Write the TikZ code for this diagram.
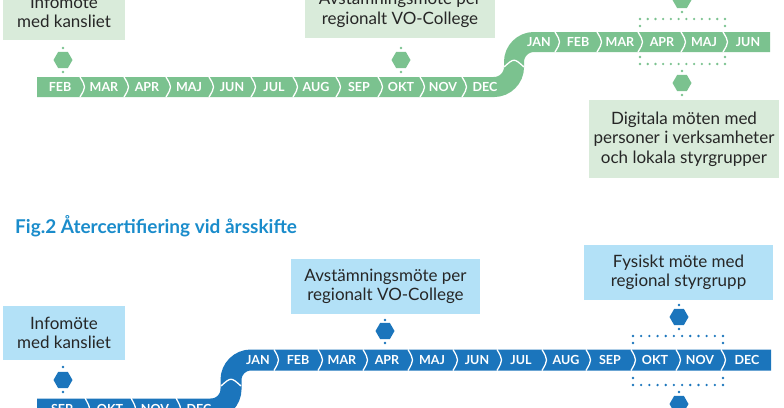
\documentclass[tikz,border=0pt]{standalone}
\usepackage{fontspec}
\setmainfont{Lato}
\usetikzlibrary{shapes.geometric}
\definecolor{gbar}{HTML}{7BC28F}
\definecolor{gbox}{HTML}{D9EBDA}
\definecolor{bbar}{HTML}{1B75BC}
\definecolor{bbox}{HTML}{B3E1F7}
\definecolor{tblue}{HTML}{1A8CCB}
\begin{document}
\begin{tikzpicture}[x=1pt,y=-1pt,
  box/.style={draw=none,inner sep=0,align=center,font=\fontsize{17}{19.5}\selectfont,text=black!85},
  mon/.style={text=white,font=\bfseries\fontsize{12.5}{12.5}\selectfont,inner sep=0},
  hex/.style={regular polygon,regular polygon sides=6,minimum size=19pt,inner sep=0,draw=none},
  sep/.style={white,line width=1.3pt},
  dot/.style={circle,inner sep=0,minimum size=2.6pt,draw=none}]
\useasboundingbox (0,0) rectangle (784,407);
\clip (0,0) rectangle (784,407);
% ===== Fig 1 (green) =====
\draw[gbar,line width=20pt,rounded corners=20pt] (37,87) -- (514,87) -- (514,42) -- (770,42);
\foreach \x in {82,126,168,211,253,295,338,380,422,464}
  \draw[sep] (\x-2,77) .. controls (\x+4,87) .. (\x-2,97);
\foreach \x in {557,599,640,683,725}
  \draw[sep] (\x-2,32) .. controls (\x+4,42) .. (\x-2,52);
\draw[sep] (504,67) .. controls (514,58) .. (524,67);
\foreach \m/\x in {FEB/60,MAR/104,APR/147,MAJ/189,JUN/232,JUL/274,AUG/316,SEP/359,OKT/401,NOV/443,DEC/485}
  \node[mon] (g\m) at (\x,87) {\m};
\foreach \m/\x in {JAN/539,FEB/578,MAR/620,APR/662,MAJ/704,JUN/748}
  \node[mon] (h\m) at (\x,42) {\m};
\node[box,fill=gbox,minimum width=122pt,minimum height=56pt] (b1) at (64,12) {Infomöte\\med kansliet};
\node[box,fill=gbox,minimum width=190pt,minimum height=56pt] (b2) at (400,10) {Avstämningsmöte per\\regionalt VO-College};
\node[box,fill=gbox,minimum width=190pt,minimum height=78pt] (b3) at (684,139) {Digitala möten med\\personer i verksamheter\\och lokala styrgrupper};
\foreach \n/\x/\y in {h1/63/60,h2/401/60,h3/682/0,h4/682/83}
  \node[hex,fill=gbar] (\n) at (\x,\y) {};
\foreach \x/\y in {63/48,63/72,401/48,401/72,682/12,682/71,682/95}
  \node[dot,fill=gbar] at (\x,\y) {};
\foreach \i in {0,...,11}{
  \node[dot,fill=gbar] at (640+\i*85/11,19) {};
  \node[dot,fill=gbar] at (640+\i*85/11,64) {};}
\foreach \x in {640,725}{
  \node[dot,fill=gbar] at (\x,26) {};
  \node[dot,fill=gbar] at (\x,57) {};}
% ===== title =====
\node[anchor=west,inner sep=0,text=tblue,font=\bfseries\fontsize{19}{19}\selectfont] (t) at (15,226) {Fig.2 Återcertifiering vid årsskifte};
% ===== Fig 2 (blue) =====
\draw[bbar,line width=21pt,rounded corners=20pt] (37,409) -- (231,409) -- (231,360) -- (771,360);
\foreach \x in {87,133,178}
  \draw[sep] (\x-2,398) .. controls (\x+4,409) .. (\x-2,420);
\foreach \x in {276,320,365,410,455,499,544,588,633,678,723}
  \draw[sep] (\x-2,349.5) .. controls (\x+4,360) .. (\x-2,370.5);
\draw[sep] (221,386) .. controls (231,377) .. (241,386);
\foreach \m/\x in {SEP/62,OKT/110,NOV/155,DEC/199}
  \node[mon] (s\m) at (\x,409) {\m};
\foreach \m/\x in {JAN/258,FEB/298,MAR/342,APR/387,MAJ/432,JUN/477,JUL/521,AUG/566,SEP/610,OKT/655,NOV/700,DEC/747}
  \node[mon] (u\m) at (\x,360) {\m};
\node[box,fill=bbox,minimum width=122pt,minimum height=54pt] (c1) at (64,333) {Infomöte\\med kansliet};
\node[box,fill=bbox,minimum width=189pt,minimum height=55pt] (c2) at (385.5,286.5) {Avstämningsmöte per\\regionalt VO-College};
\node[box,fill=bbox,minimum width=189pt,minimum height=55pt] (c3) at (678.5,272.5) {Fysiskt möte med\\regional styrgrupp};
\foreach \n/\x/\y in {k1/63/380,k2/385/331,k3/679/317,k4/679/404}
  \node[hex,fill=bbar] (\n) at (\x,\y) {};
\foreach \x/\y in {63/367,63/392,385/320,385/343,679/305,679/329,679/392}
  \node[dot,fill=bbar] at (\x,\y) {};
\foreach \i in {0,...,11}{
  \node[dot,fill=bbar] at (633+\i*90/11,336) {};
  \node[dot,fill=bbar] at (633+\i*90/11,385) {};}
\foreach \x in {633,723}{
  \node[dot,fill=bbar] at (\x,343) {};
  \node[dot,fill=bbar] at (\x,378) {};}
\end{tikzpicture}
\end{document}
